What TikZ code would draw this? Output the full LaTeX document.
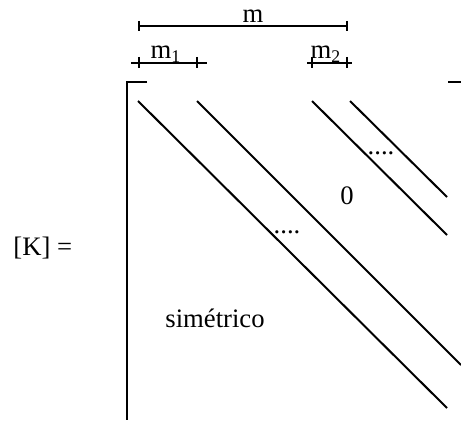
\documentclass[tikz,border=0pt]{standalone}
\usepackage{fontspec}
\setmainfont{Liberation Serif}
\begin{document}
\begin{tikzpicture}[x=0.45pt,y=-0.45pt,
  thickline/.style={line width=0.9pt},
  dimline/.style={line width=0.5pt},
  lbl/.style={inner sep=0pt,anchor=base,font=\fontsize{12}{14}\selectfont}]
\useasboundingbox (0,0) rectangle (461,420);
% dimension lines
\draw[dimline] (139,26) -- (347,26);
\draw[dimline] (139,21) -- (139,31);
\draw[dimline] (347,21) -- (347,31);
\node[lbl] (m) at (253,23) {m};
\draw[dimline] (131,63) -- (207,63);
\draw[dimline] (139,57) -- (139,68);
\draw[dimline] (197,57) -- (197,68);
\node[lbl] (m1) at (166,59) {m\textsubscript{1}};
\draw[dimline] (307,63) -- (352,63);
\draw[dimline] (312,57) -- (312,68);
\draw[dimline] (347,57) -- (347,68);
\node[lbl] (m2) at (326,59) {m\textsubscript{2}};
% brackets
\draw[thickline] (147,82) -- (127,82) -- (127,420);
\draw[thickline] (448,82) -- (461,82);
% diagonals
\draw[thickline] (138,101) -- (447,408);
\draw[thickline] (197,101) -- (461,365);
\draw[thickline] (312,101) -- (447,235);
\draw[thickline] (350,101) -- (447,197);
% labels
\node[lbl] (dots1) at (381,155) {....};
\node[lbl] (zero) at (347,204) {0};
\node[lbl] (dots2) at (287,233) {....};
\node[lbl] (sim) at (215,327) {simétrico};
\node[lbl,anchor=base west] (K) at (13,255) {[K] =};
\end{tikzpicture}
\end{document}
